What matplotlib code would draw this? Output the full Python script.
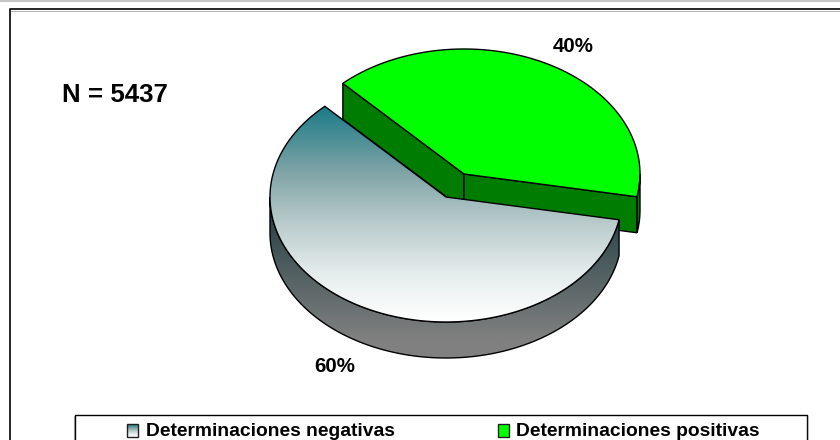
"""
Pie 3D de determinaciones negativas / positivas
"""

import numpy as np
import matplotlib
matplotlib.use("Agg")
import matplotlib.pyplot as plt
from matplotlib.patches import Polygon, Rectangle
from matplotlib.colors import LinearSegmentedColormap

categories = ["Determinaciones negativas", "Determinaciones positivas"]
values = [60, 40]
value_labels = ["60%", "40%"]
n_label = "N = 5437"

plt.rcParams["font.family"] = ["Liberation Sans", "DejaVu Sans"]

W, H = 840, 440
RX, RY, DEPTH = 176, 125, 36
CENTER_NEG = (446, 197)
CENTER_POS = (464, 174)
START_ANGLE = 133.5  # grados, sentido antihorario
FACE_COLORS = [(0, "#1b7c88"), (0.3, "#7fa3a6"), (0.55, "#bccdcd"), (0.78, "#e6eded"), (1, "#ffffff")]
SIDE_COLORS = [(0, "#2b4448"), (0.12, "#2b4448"), (0.88, "#808080"), (1, "#808080")]

fig = plt.figure(figsize=(W / 100, H / 100), dpi=100)
ax = fig.add_axes([0, 0, 1, 1])
ax.set_xlim(0, W)
ax.set_ylim(H, 0)
ax.axis("off")


def ellipse_pts(center, a0, a1, n=200, dy=0):
    t = np.radians(np.linspace(a0, a1, n))
    return np.column_stack([center[0] + RX * np.cos(t), center[1] - RY * np.sin(t) + dy])


def gradient_fill(poly_pts, colors, y0, y1, zorder):
    cmap = LinearSegmentedColormap.from_list("g", colors)
    grad = np.linspace(0, 1, 256).reshape(-1, 1)
    im = ax.imshow(grad, cmap=cmap, extent=(0, W, y1, y0), aspect="auto", zorder=zorder)
    patch = Polygon(poly_pts, closed=True, transform=ax.transData, facecolor="none", edgecolor="none")
    ax.add_patch(patch)
    im.set_clip_path(patch)


# angulos de cada sector a partir de los valores
neg_a0 = START_ANGLE
neg_a1 = neg_a0 + values[0] / sum(values) * 360
pos_a0 = neg_a1 - 360
pos_a1 = neg_a0

# marco (sin borde derecho visible)
ax.plot([0, W], [0.8, 0.8], color="#c4c4c4", lw=1.5, zorder=1)
ax.plot([W + 5, 9.5, 9.5], [9.5, 9.5, H + 5], color="black", lw=1.2, zorder=1)
ax.plot([10.5, W], [10.8, 10.8], color="#b0b0b0", lw=0.7, zorder=1)

# sector negativo: lateral
top_arc = ellipse_pts(CENTER_NEG, 180, neg_a1)
bottom_arc = ellipse_pts(CENTER_NEG, neg_a1, 180, dy=DEPTH)
side = np.vstack([top_arc, bottom_arc])
gradient_fill(side, SIDE_COLORS, CENTER_NEG[1], CENTER_NEG[1] + RY + DEPTH, 2)
ax.add_patch(Polygon(side, closed=True, fill=False, edgecolor="black", lw=1.0, zorder=3))

# sector negativo: cara superior
face = np.vstack([[CENTER_NEG], ellipse_pts(CENTER_NEG, neg_a0, neg_a1)])
gradient_fill(face, FACE_COLORS, CENTER_NEG[1] - 90, CENTER_NEG[1] + RY, 4)
ax.add_patch(Polygon(face, closed=True, fill=False, edgecolor="black", lw=1.0, zorder=5))

# sector positivo: paredes y borde
cx, cy = CENTER_POS
wall_color = "#007c00"
wall_left = np.array([ellipse_pts(CENTER_POS, pos_a1, pos_a1, n=1)[0],
                      (cx, cy), (cx, cy + DEPTH)])
wall_left = np.vstack([wall_left, ellipse_pts(CENTER_POS, pos_a1, pos_a1, n=1, dy=DEPTH)])
wall_right = np.array([(cx, cy), ellipse_pts(CENTER_POS, pos_a0, pos_a0, n=1)[0]])
wall_right = np.vstack([wall_right, ellipse_pts(CENTER_POS, pos_a0, pos_a0, n=1, dy=DEPTH),
                        [(cx, cy + DEPTH)]])
outer = np.vstack([ellipse_pts(CENTER_POS, pos_a0, 0, n=20),
                   ellipse_pts(CENTER_POS, 0, pos_a0, n=20, dy=DEPTH)])
for pts, z in [(outer, 6), (wall_left, 1.5), (wall_right, 1.5)]:
    ax.add_patch(Polygon(pts, closed=True, facecolor=wall_color, edgecolor="black", lw=1.0, zorder=z))

# sector positivo: cara superior
face_pos = np.vstack([[CENTER_POS], ellipse_pts(CENTER_POS, pos_a0, pos_a1)])
ax.add_patch(Polygon(face_pos, closed=True, facecolor="#00ff00", edgecolor="black", lw=1.0, zorder=1.6))

# textos
ax.text(573, 46.5, value_labels[1], fontsize=14.8, fontweight="bold", ha="center", va="center", zorder=8)
ax.text(335, 367, value_labels[0], fontsize=14.8, fontweight="bold", ha="center", va="center", zorder=8)
ax.text(115, 95, n_label, fontsize=18.6, fontweight="bold", ha="center", va="center", zorder=8)

# leyenda
ax.plot([74.5, 74.5, 806.5, 806.5], [H + 5, 415.5, 415.5, H + 5], color="black", lw=1.0, zorder=7)
ax.plot([73.5, 73.5], [416, H], color="#909090", lw=0.8, zorder=7)
ax.plot([807.8, 807.8], [416, H], color="#b8b8b8", lw=0.8, zorder=7)
cmap_leg = LinearSegmentedColormap.from_list("l", FACE_COLORS)
ax.imshow(np.linspace(0, 1, 32).reshape(-1, 1), cmap=cmap_leg, extent=(127, 138, 437, 424),
          aspect="auto", zorder=8)
ax.add_patch(Rectangle((127, 424), 11, 13, fill=False, edgecolor="#202020", lw=1.0, zorder=9))
ax.add_patch(Rectangle((498, 424), 11, 13, facecolor="#00ff00", edgecolor="#202020", lw=1.0, zorder=9))
ax.text(145.5, 431.5, categories[0], fontsize=13.85, fontweight="bold", ha="left", va="center", zorder=9)
ax.text(516, 431.5, categories[1], fontsize=13.85, fontweight="bold", ha="left", va="center", zorder=9)

ax.set_xlim(0, W)
ax.set_ylim(H, 0)
fig.savefig("out.png", dpi=100)
